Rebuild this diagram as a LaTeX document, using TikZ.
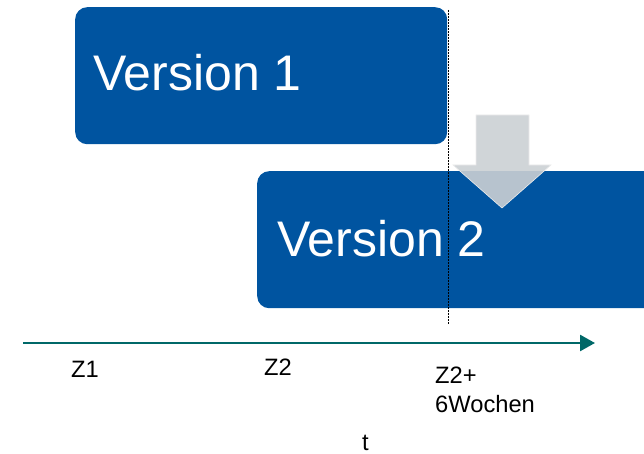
\documentclass[tikz,border=0pt]{standalone}
\usepackage{fontspec}
\setmainfont{Liberation Sans}
\usetikzlibrary{arrows.meta}
\definecolor{boxblue}{RGB}{0,84,160}
\definecolor{axisteal}{RGB}{0,104,104}
\definecolor{arrowgray}{RGB}{203,208,212}
\tikzset{
  verbox/.style={fill=boxblue, draw=none, rounded corners=12pt, anchor=north west, inner sep=0pt},
  vertext/.style={text=white, anchor=base west, inner sep=0pt, font=\fontsize{50}{60}\selectfont},
  axlabel/.style={anchor=base west, inner sep=0pt, align=left, font=\fontsize{23.7}{29}\selectfont},
  axisline/.style={draw=axisteal, line width=2.7pt, -{Triangle[length=15pt,width=16pt]}},
  markline/.style={draw=black, line width=0.8pt, dash pattern=on 2pt off 1pt},
  downarrow/.style={fill=arrowgray, fill opacity=0.9, draw=white!85!gray, line width=0.6pt}
}
\begin{document}
\begin{tikzpicture}[x=1pt,y=-1pt]
\useasboundingbox (0,0) rectangle (644,454);
% boxes
\node[verbox, minimum width=372pt, minimum height=137pt] (v1) at (75,7) {};
\node[verbox, minimum width=400pt, minimum height=137pt] (v2) at (257,171) {};
\node[vertext] (v1t) at (93,91) {Version 1};
\node[vertext] (v2t) at (277,256) {Version 2};
% dashed marker
\coordinate (mtop) at (448,10);
\coordinate (mbot) at (448,324);
\draw[markline] (mtop) -- (mbot);
% gray arrow
\path[downarrow] (476,115) -- (529,115) -- (529,165) -- (551,165) -- (502,208) -- (453,165) -- (476,165) -- cycle;
% axis
\coordinate (axs) at (23,343);
\coordinate (axe) at (595,343);
\draw[axisline] (axs) -- (axe);
% labels
\node[axlabel] (z1) at (71,377) {Z1};
\node[axlabel] (z2) at (264,375) {Z2};
\node[axlabel] (z3) at (435,412) {Z2+\\6Wochen};
\node[axlabel] (t) at (362,450) {t};
\end{tikzpicture}
\end{document}
